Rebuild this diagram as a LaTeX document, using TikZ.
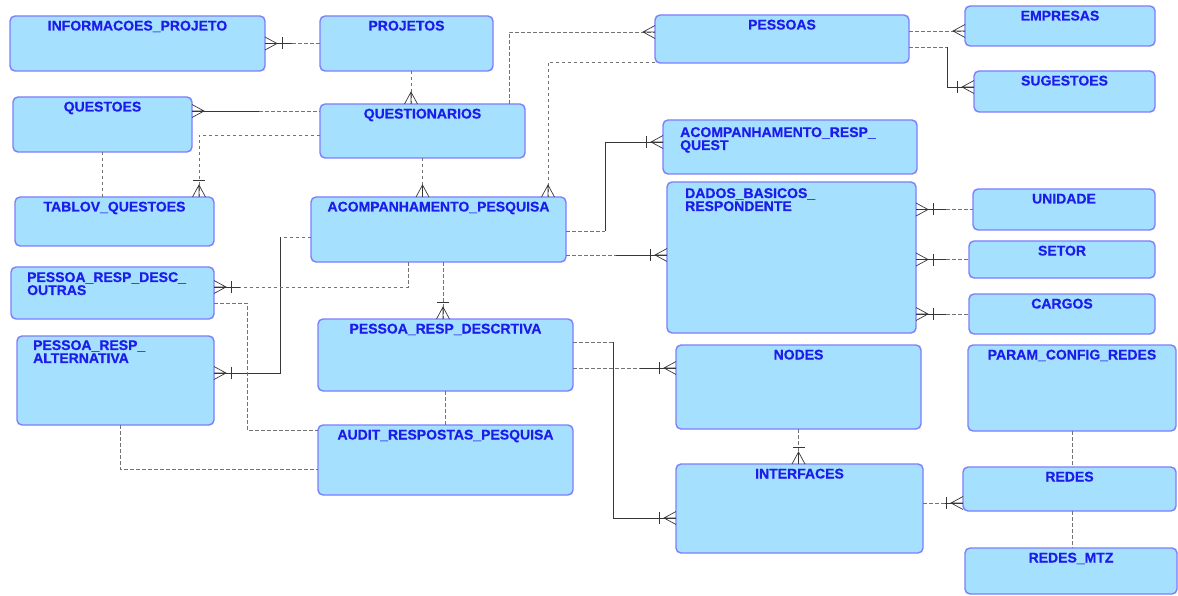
\documentclass[tikz,border=0pt]{standalone}
\usepackage{fontspec}
\setmainfont{Liberation Sans}
\newfontfamily\entfont{Liberation Sans}[BoldFeatures={FakeBold=0.6}]
\usetikzlibrary{calc}

\definecolor{entfill}{RGB}{166,224,255}
\definecolor{entline}{RGB}{125,125,255}
\definecolor{enttext}{RGB}{28,28,235}
\definecolor{relgray}{RGB}{115,115,115}
\definecolor{reldark}{RGB}{55,55,55}

\tikzset{
  entbox/.style={draw=entline, fill=entfill, line width=1.4pt, rounded corners=5pt,
                 inner sep=0pt, outer sep=0pt, anchor=north west},
  enttitle/.style={text=enttext, font=\fontsize{14}{13}\selectfont\entfont\bfseries,
                   inner sep=0pt, anchor=base},
  enttitleL/.style={text=enttext, font=\fontsize{14}{13}\selectfont\entfont\bfseries,
                    inner sep=0pt, anchor=north west, align=left},
  opt/.style={draw=relgray, line width=0.9pt, dash pattern=on 3.5pt off 2.5pt},
  mand/.style={draw=reldark, line width=0.8pt},
  crowst/.style={draw=reldark, line width=0.7pt},
}

% entity box: name, x1, y1, x2, y2 (y grows downwards)
\newcommand\entity[5]{%
  \node[entbox, minimum width={(#4-#2)*1pt}, minimum height={(#5-#3)*1pt}] (#1) at (#2,#3) {};}
% centred one-line table name
\newcommand\etitle[2]{\node[enttitle] (#1-t) at ($(#1.north)+(0,14.5)$) {#2};}
% left-aligned table name: name, dx, dy, text
\newcommand\etitleL[4]{\node[enttitleL] (#1-t) at ($(#1.north west)+(#2,#3)$) {#4};}
% crow's foot at an end point, #2 = outward direction
\newcommand\crowfoot[2]{%
  \draw[crowst] ($(#1)+({#2+90}:6.5)$) -- ($(#1)+(#2:12)$) -- ($(#1)+({#2-90}:6.5)$)
                (#1) -- ($(#1)+(#2:12)$);}
% crow's foot with the mandatory bar
\newcommand\crowbar[2]{%
  \crowfoot{#1}{#2}%
  \draw[crowst] ($(#1)+(#2:17)+({#2+90}:6)$) -- ($(#1)+(#2:17)+({#2-90}:6)$);}

\begin{document}
\begin{tikzpicture}[x=1pt,y=-1pt]
\fill[white] (0,0) rectangle (1178,596);
\useasboundingbox (0,0) rectangle (1178,596);

% ---------- tables ----------
\entity{info}{10}{16}{265}{71}
\entity{proj}{320}{16}{493}{71}
\entity{pess}{655}{15}{909}{63}
\entity{empr}{965}{6}{1155}{46}
\entity{suge}{974}{71}{1155}{112}
\entity{questoes}{13}{97}{192}{152}
\entity{qnar}{320}{104}{525}{158}
\entity{arq}{663}{120}{917}{174}
\entity{tablov}{15}{197}{214}{246}
\entity{apesq}{311}{197}{566}{262}
\entity{dados}{667}{182}{916}{333}
\entity{unid}{973}{189}{1155}{230}
\entity{setor}{969}{241}{1155}{278}
\entity{cargos}{969}{294}{1155}{334}
\entity{outras}{11}{267}{214}{319}
\entity{alt}{17}{336}{214}{425}
\entity{descr}{318}{319}{573}{391}
\entity{nodes}{676}{345}{921}{429}
\entity{param}{968}{345}{1176}{431}
\entity{audit}{318}{425}{573}{495}
\entity{interf}{676}{464}{923}{553}
\entity{redes}{963}{467}{1176}{511}
\entity{mtz}{965}{548}{1177}{594}

\etitle{info}{INFORMACOES\_PROJETO}
\etitle{proj}{PROJETOS}
\etitle{pess}{PESSOAS}
\etitle{empr}{EMPRESAS}
\etitle{suge}{SUGESTOES}
\etitle{questoes}{QUESTOES}
\etitle{qnar}{QUESTIONARIOS}
\etitleL{arq}{17}{7}{ACOMPANHAMENTO\_RESP\_\\QUEST}
\etitle{tablov}{TABLOV\_QUESTOES}
\etitle{apesq}{ACOMPANHAMENTO\_PESQUISA}
\etitleL{dados}{18}{6}{DADOS\_BASICOS\_\\RESPONDENTE}
\etitle{unid}{UNIDADE}
\etitle{setor}{SETOR}
\etitle{cargos}{CARGOS}
\etitleL{outras}{16}{5}{PESSOA\_RESP\_DESC\_\\OUTRAS}
\etitleL{alt}{16}{4}{PESSOA\_RESP\_\\ALTERNATIVA}
\etitle{descr}{PESSOA\_RESP\_DESCRTIVA}
\etitle{nodes}{NODES}
\etitle{param}{PARAM\_CONFIG\_REDES}
\etitle{audit}{AUDIT\_RESPOSTAS\_PESQUISA}
\etitle{interf}{INTERFACES}
\etitle{redes}{REDES}
\etitle{mtz}{REDES\_MTZ}

% ---------- relationships ----------
% INFORMACOES_PROJETO - PROJETOS
\coordinate (r1a) at (info.east);
\draw[mand] (r1a) -- ++(27,0) coordinate (r1m);
\draw[opt] (r1m) -- (proj.west);
\crowbar{r1a}{0}

% QUESTOES - QUESTIONARIOS
\coordinate (r2a) at ($(questoes.north east)+(0,14)$);
\draw[mand] (r2a) -- ++(67,0) coordinate (r2m);
\draw[opt] (r2m) -- (qnar.west |- r2a);
\crowfoot{r2a}{0}

% QUESTIONARIOS - TABLOV_QUESTOES
\coordinate (r3a) at ($(qnar.north west)+(0,31)$);
\coordinate (r3b) at ($(tablov.north east)+(-15,0)$);
\draw[opt] (r3a) -| (r3b);
\crowbar{r3b}{270}

% QUESTOES - TABLOV_QUESTOES
\draw[opt] (questoes.south) -- (questoes.south |- tablov.north);

% PROJETOS - QUESTIONARIOS
\coordinate (r5a) at ($(proj.south)+(4.5,0)$);
\coordinate (r5b) at (r5a |- qnar.north);
\draw[opt] (r5a) -- (r5b);
\crowfoot{r5b}{270}

% QUESTIONARIOS - PESSOAS
\coordinate (r6a) at ($(qnar.north east)+(-16,0)$);
\coordinate (r6b) at ($(pess.north west)+(0,17)$);
\draw[opt] (r6a) |- (r6b);
\crowfoot{r6b}{180}

% PESSOAS - ACOMPANHAMENTO_PESQUISA
\coordinate (r7a) at ($(pess.south west)+(0,-1)$);
\coordinate (r7b) at ($(apesq.north east)+(-18,0)$);
\draw[opt] (r7a) -| (r7b);
\crowfoot{r7b}{270}

% QUESTIONARIOS - ACOMPANHAMENTO_PESQUISA
\coordinate (r8b) at (qnar.south |- apesq.north);
\draw[opt] (qnar.south) -- (r8b);
\crowfoot{r8b}{270}

% PESSOAS - EMPRESAS
\coordinate (r9a) at ($(pess.north east)+(0,16)$);
\coordinate (r9b) at (empr.west |- r9a);
\draw[opt] (r9a) -- (r9b);
\crowfoot{r9b}{180}

% PESSOAS - SUGESTOES
\coordinate (r10a) at ($(pess.north east)+(0,32)$);
\coordinate (r10b) at ($(suge.north west)+(0,16)$);
\draw[opt] (r10a) -- ++(38,0) coordinate (r10m);
\draw[mand] (r10m) |- (r10b);
\crowbar{r10b}{180}

% ACOMPANHAMENTO_PESQUISA - ACOMPANHAMENTO_RESP_QUEST
\coordinate (r11a) at ($(apesq.north east)+(0,34)$);
\coordinate (r11b) at ($(arq.north west)+(0,22)$);
\draw[opt] (r11a) -- ++(39,0) coordinate (r11m);
\draw[mand] (r11m) |- (r11b);
\crowbar{r11b}{180}

% ACOMPANHAMENTO_PESQUISA - DADOS_BASICOS_RESPONDENTE
\coordinate (r12a) at ($(apesq.north east)+(0,58)$);
\coordinate (r12b) at (dados.west |- r12a);
\draw[opt] (r12a) -- ++(50,0) coordinate (r12m);
\draw[mand] (r12m) -- (r12b);
\crowbar{r12b}{180}

% UNIDADE, SETOR, CARGOS - DADOS_BASICOS_RESPONDENTE
\foreach \t/\k in {unid/13,setor/14,cargos/15}{
  \coordinate (r\k b) at (dados.east |- \t.west);
  \draw[mand] (r\k b) -- ++(30,0) coordinate (r\k m);
  \draw[opt] (r\k m) -- (\t.west);
  \crowbar{r\k b}{0}
}

% ACOMPANHAMENTO_PESQUISA - PESSOA_RESP_ALTERNATIVA
\coordinate (r16a) at ($(apesq.north west)+(0,40)$);
\coordinate (r16b) at ($(alt.north east)+(0,37)$);
\draw[opt] (r16a) -- ++(-31,0) coordinate (r16m);
\draw[mand] (r16m) |- (r16b);
\crowbar{r16b}{0}

% ACOMPANHAMENTO_PESQUISA - PESSOA_RESP_DESC_OUTRAS
\coordinate (r17a) at ($(apesq.south west)+(97,0)$);
\coordinate (r17b) at ($(outras.north east)+(0,20)$);
\draw[opt] (r17a) |- (r17b);
\draw[mand] (r17b) -- ++(26,0);
\crowbar{r17b}{0}

% ACOMPANHAMENTO_PESQUISA - PESSOA_RESP_DESCRTIVA
\coordinate (r18b) at ($(descr.north)+(-2.5,0)$);
\draw[opt] (r18b |- apesq.south) -- (r18b);
\crowbar{r18b}{270}

% PESSOA_RESP_DESCRTIVA - INTERFACES
\coordinate (r19a) at ($(descr.north east)+(0,23)$);
\coordinate (r19b) at ($(interf.north west)+(0,54)$);
\draw[opt] (r19a) -- ++(40,0) coordinate (r19m);
\draw[mand] (r19m) |- (r19b);
\crowbar{r19b}{180}

% PESSOA_RESP_DESCRTIVA - NODES
\coordinate (r20a) at ($(descr.north east)+(0,49)$);
\coordinate (r20b) at (nodes.west |- r20a);
\draw[opt] (r20a) -- ++(67,0) coordinate (r20m);
\draw[mand] (r20m) -- (r20b);
\crowbar{r20b}{180}

% NODES - INTERFACES
\coordinate (r21b) at (nodes.south |- interf.north);
\draw[opt] (nodes.south) -- (r21b);
\crowbar{r21b}{270}

% INTERFACES - REDES
\coordinate (r22b) at ($(redes.north west)+(0,36)$);
\draw[opt] (interf.east |- r22b) -- ++(22,0) coordinate (r22m);
\draw[mand] (r22m) -- (r22b);
\crowbar{r22b}{180}

% PARAM_CONFIG_REDES - REDES - REDES_MTZ
\draw[opt] (param.south) -- (param.south |- redes.north);
\draw[opt] (param.south |- redes.south) -- (param.south |- mtz.north);

% PESSOA_RESP_DESC_OUTRAS - AUDIT_RESPOSTAS_PESQUISA
\coordinate (r25a) at ($(outras.north east)+(0,36)$);
\coordinate (r25b) at ($(audit.north west)+(0,5)$);
\draw[opt] (r25a) -- ++(33,0) |- (r25b);

% PESSOA_RESP_ALTERNATIVA - AUDIT_RESPOSTAS_PESQUISA
\coordinate (r26a) at ($(alt.south west)+(103,0)$);
\coordinate (r26b) at ($(audit.north west)+(0,44)$);
\draw[opt] (r26a) |- (r26b);

% PESSOA_RESP_DESCRTIVA - AUDIT_RESPOSTAS_PESQUISA
\draw[opt] (descr.south) -- (audit.north);

\end{tikzpicture}
\end{document}
